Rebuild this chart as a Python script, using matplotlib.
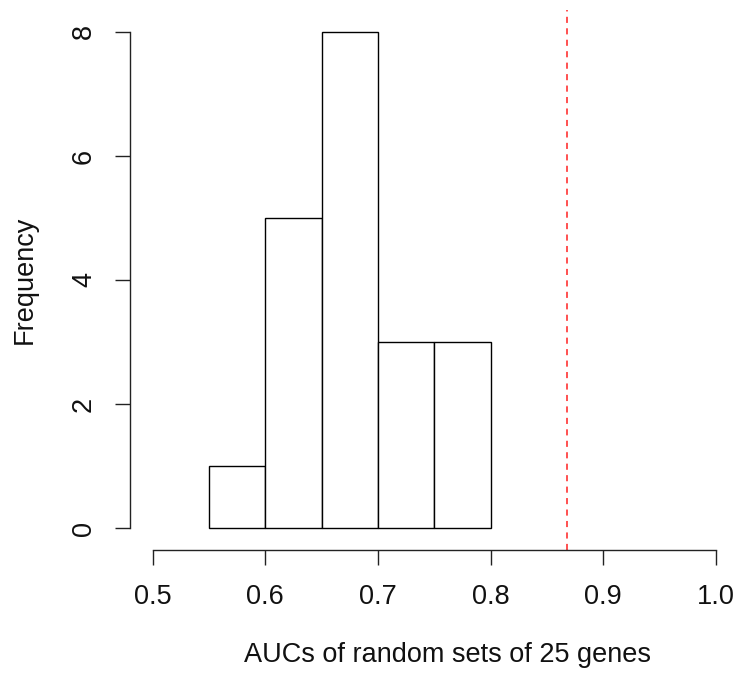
import matplotlib
matplotlib.use("Agg")
import matplotlib.pyplot as plt

plt.rcParams['font.family'] = ['Liberation Sans', 'DejaVu Sans']

# Data
bin_edges = [0.55, 0.60, 0.65, 0.70, 0.75, 0.80]
counts = [1, 5, 8, 3, 3]
observed_auc = 0.868
x_ticks = [0.5, 0.6, 0.7, 0.8, 0.9, 1.0]
x_tick_labels = ["0.5", "0.6", "0.7", "0.8", "0.9", "1.0"]
y_ticks = [0, 2, 4, 6, 8]
xlabel = "AUCs of random sets of 25 genes"
ylabel = "Frequency"

W, H = 736, 675
fig = plt.figure(figsize=(W / 100, H / 100), dpi=100)

# axes placed in pixel coordinates
left_px, right_px, bottom_px, top_px = 130, 736, 550, 10
ax = fig.add_axes([left_px / W, 1 - bottom_px / H,
                   (right_px - left_px) / W, (bottom_px - top_px) / H])

# scale: 0.5 -> 152.7 px, 1.0 -> 715.7 px ; y: 0 -> 528 px, 8 -> 32 px
xs = (715.7 - 152.7) / 0.5
ax.set_xlim(0.5 - (152.7 - left_px) / xs, 0.5 + (right_px - 152.7) / xs)
ys = (528 - 32) / 8
ax.set_ylim(-(bottom_px - 528) / ys, 8 + (32 - top_px) / ys)

lefts = bin_edges[:-1]
widths = [b - a for a, b in zip(bin_edges[:-1], bin_edges[1:])]
ax.bar(lefts, counts, width=widths, align='edge', facecolor='white',
       edgecolor='black', linewidth=1.0)

ax.axvline(observed_auc, color='#ff2020', linewidth=1.1, dashes=(4, 3.5))

for s in ['top', 'right']:
    ax.spines[s].set_visible(False)
ax.spines['left'].set_bounds(0, 8)
ax.spines['bottom'].set_bounds(0.5, 1.0)
for s in ['left', 'bottom']:
    ax.spines[s].set_linewidth(1.0)
    ax.spines[s].set_color('#222222')

ax.set_xticks(x_ticks)
ax.set_xticklabels(x_tick_labels)
ax.set_yticks(y_ticks)
ax.set_yticklabels([str(v) for v in y_ticks], rotation=90, va='center')
ax.tick_params(axis='both', length=10.8, width=1.0, color='#222222',
               labelsize=19.5, pad=14, labelcolor='#111111')
ax.tick_params(axis='y', pad=13)

fig.text(25 / W, 1 - 280 / H, ylabel, rotation=90, ha='center', va='center',
         fontsize=19.5, color='#111111')
fig.text(448 / W, 1 - 655 / H, xlabel, ha='center', va='center',
         fontsize=19.5, color='#111111')

fig.savefig("out.png", dpi=100, facecolor='white')
